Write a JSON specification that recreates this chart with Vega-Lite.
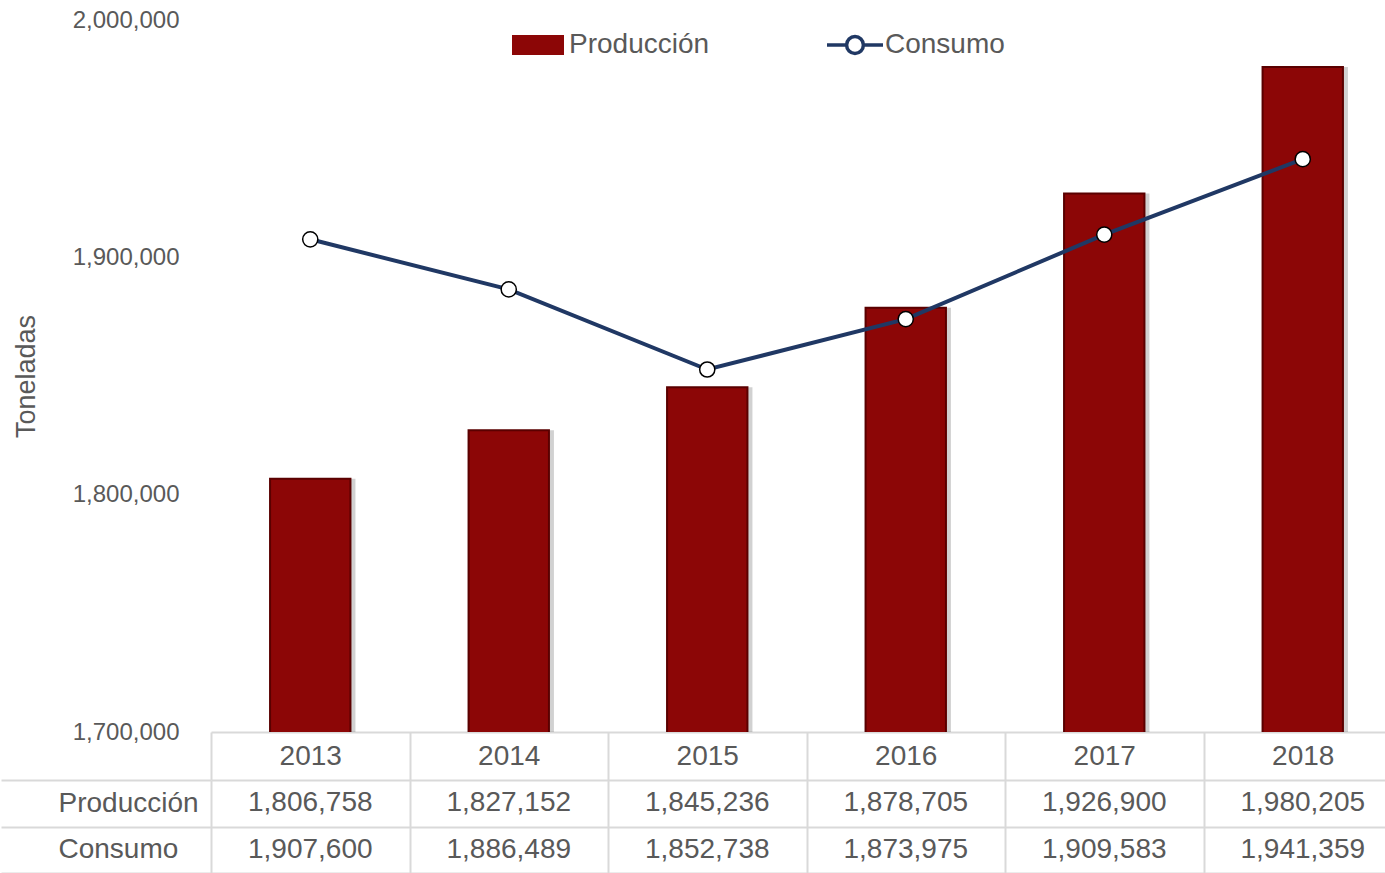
{
  "$schema": "https://vega.github.io/schema/vega-lite/v6.json",
  "padding": {"top": 8, "left": 0, "right": 0, "bottom": 0},
  "background": "white",
  "spacing": 48,
  "bounds": "flush",
  "config": {"view": {"stroke": null}, "font": "Liberation Sans"},
  "data": {"values": [
    {"year": "2013", "serie": "Producción", "valor": 1806758},
    {"year": "2014", "serie": "Producción", "valor": 1827152},
    {"year": "2015", "serie": "Producción", "valor": 1845236},
    {"year": "2016", "serie": "Producción", "valor": 1878705},
    {"year": "2017", "serie": "Producción", "valor": 1926900},
    {"year": "2018", "serie": "Producción", "valor": 1980205},
    {"year": "2013", "serie": "Consumo", "valor": 1907600},
    {"year": "2014", "serie": "Consumo", "valor": 1886489},
    {"year": "2015", "serie": "Consumo", "valor": 1852738},
    {"year": "2016", "serie": "Consumo", "valor": 1873975},
    {"year": "2017", "serie": "Consumo", "valor": 1909583},
    {"year": "2018", "serie": "Consumo", "valor": 1941359}
  ]},
  "vconcat": [
    {
      "width": 1191,
      "height": 712,
      "encoding": {
        "x": {"field": "year", "type": "ordinal", "scale": {"paddingInner": 0, "paddingOuter": 0},
              "axis": {"title": null, "labels": false, "ticks": false, "grid": false, "domain": true, "domainColor": "#d9d9d9", "domainWidth": 2}},
        "y": {"field": "valor", "type": "quantitative",
              "scale": {"domain": [1700000, 2000000], "zero": false, "nice": false},
              "axis": {"title": "Toneladas", "values": [1700000, 1800000, 1900000, 2000000], "format": ",.0f",
                       "domain": false, "ticks": false, "tickSize": 0, "grid": false,
                       "labelFontSize": 24, "labelColor": "#595959", "labelPadding": 32,
                       "titleFontSize": 27, "titleFontWeight": "normal", "titleColor": "#595959", "titlePadding": 32}}
      },
      "layer": [
        {
          "transform": [{"filter": "datum.serie === 'Producción'"}],
          "mark": {"type": "bar", "width": {"band": 0.405}, "color": "#000000", "opacity": 0.18, "xOffset": 5, "clip": true}
        },
        {
          "transform": [{"filter": "datum.serie === 'Producción'"}],
          "mark": {"type": "bar", "width": {"band": 0.405}, "stroke": "#5a0000", "strokeWidth": 2, "clip": true},
          "encoding": {
            "fill": {"field": "serie", "type": "nominal",
                     "scale": {"domain": ["Producción"], "range": ["#8c0606"]},
                     "legend": {"title": null, "orient": "none", "legendX": 301, "legendY": -1, "padding": 0,
                                "symbolType": "M-1,-0.38H1V0.38H-1Z", "symbolSize": 2704, "symbolStrokeWidth": 0,
                                "labelFontSize": 28, "labelColor": "#595959", "labelOffset": 5}}
          }
        },
        {
          "transform": [{"filter": "datum.serie === 'Consumo'"}],
          "mark": {"type": "line", "strokeWidth": 4},
          "encoding": {
            "stroke": {"field": "serie", "type": "nominal",
                       "scale": {"domain": ["Consumo"], "range": ["#203864"]},
                       "legend": {"title": null, "orient": "none", "legendX": 614, "legendY": -5, "padding": 0,
                                  "symbolType": "M-1,0H-0.3M0.3,0A0.3,0.3,0,1,1,-0.3,0A0.3,0.3,0,1,1,0.3,0M0.3,0H1",
                                  "symbolSize": 3136, "symbolStrokeWidth": 3.5, "symbolFillColor": "white",
                                  "labelFontSize": 28, "labelColor": "#595959", "labelOffset": 0}}
          }
        },
        {
          "transform": [{"filter": "datum.serie === 'Consumo'"}],
          "mark": {"type": "point", "filled": true, "fill": "white", "stroke": "black", "strokeWidth": 1.5, "size": 230, "opacity": 1}
        }
      ]
    },
    {
      "width": 1191,
      "height": 93,
      "encoding": {
        "x": {"field": "year", "type": "ordinal", "scale": {"paddingInner": 0, "paddingOuter": 0},
              "axis": {"orient": "top", "title": null, "domain": false, "tickBand": "extent",
                       "ticks": true, "tickSize": 48, "tickColor": "#d9d9d9", "tickWidth": 2,
                       "grid": true, "gridColor": "#d9d9d9", "gridWidth": 2,
                       "labelFontSize": 28, "labelColor": "#595959", "labelBaseline": "middle", "labelPadding": -24, "labelAngle": 0}},
        "y": {"field": "serie", "type": "nominal",
              "scale": {"domain": ["Producción", "Consumo"], "paddingInner": 0, "paddingOuter": 0},
              "axis": {"title": null, "domain": false, "tickBand": "extent",
                       "ticks": true, "tickSize": 210, "tickColor": "#d9d9d9", "tickWidth": 2,
                       "grid": true, "gridColor": "#d9d9d9", "gridWidth": 2,
                       "labelFontSize": 28, "labelColor": "#595959", "labelAlign": "left", "labelPadding": -57}},
        "text": {"field": "valor", "type": "quantitative", "format": ",.0f"}
      },
      "mark": {"type": "text", "fontSize": 28, "color": "#595959"}
    }
  ]
}
